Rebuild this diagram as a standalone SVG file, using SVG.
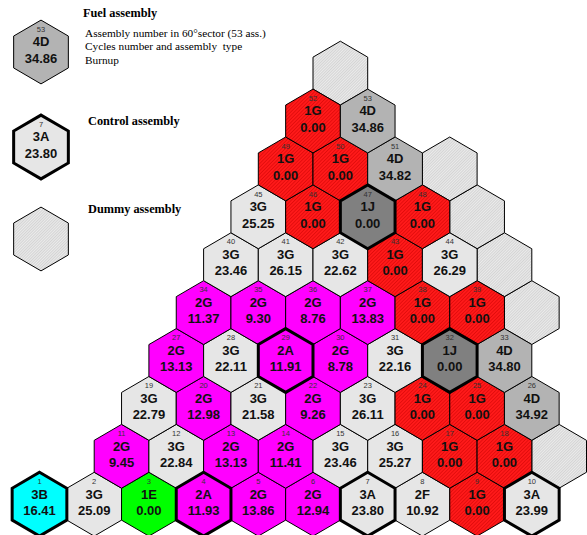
<svg xmlns="http://www.w3.org/2000/svg" xmlns:xlink="http://www.w3.org/1999/xlink" width="587" height="535" viewBox="0 0 587 535">
<style>
.hx{stroke:#000;stroke-width:1;stroke-linejoin:miter}
.thick{stroke-width:3}
.lg{fill:#e6e6e6}
.gr{fill:#b3b3b3}
.dk{fill:#808080}
.mg{fill:#ff00ff}
.rd{fill:url(#redhatch)}
.gn{fill:#00ff00}
.cy{fill:#00ffff}
.dm{fill:url(#dummyhatch)}
.n{font-family:"Liberation Sans",Arial,sans-serif;font-size:7.5px;fill:#333;text-anchor:middle}
.t{font-family:"Liberation Sans",Arial,sans-serif;font-size:13px;font-weight:bold;fill:#111;text-anchor:middle}
.lh{font-family:"Liberation Serif","Times New Roman",serif;font-size:12.3px;font-weight:bold;fill:#000}
.lt{font-family:"Liberation Serif","Times New Roman",serif;font-size:11.3px;fill:#000}
</style>
<defs>
<polygon id="hx" points="0,-31.9 27.35,-15.95 27.35,15.95 0,31.9 -27.35,15.95 -27.35,-15.95"/>
<pattern id="redhatch" width="2.5" height="2.5" patternUnits="userSpaceOnUse" patternTransform="rotate(45)">
<rect width="2.5" height="2.5" fill="#ff1a1a"/>
<line x1="0" y1="0" x2="0" y2="2.5" stroke="#c80000" stroke-width="0.9"/>
</pattern>
<pattern id="dummyhatch" width="2" height="2" patternUnits="userSpaceOnUse" patternTransform="rotate(45)">
<rect width="2" height="2" fill="#f4f4f4"/>
<line x1="0" y1="0" x2="0" y2="2" stroke="#a8a8a8" stroke-width="0.8"/>
<line x1="0" y1="1" x2="2" y2="1" stroke="#cfcfcf" stroke-width="0.5"/>
</pattern>
</defs>

<g id="legend">
<g id="legend-fuel" transform="translate(41,52)">
<use href="#hx" class="hx gr"/>
<text class="n" y="-20.3">53</text><text class="t" y="-5.7">4D</text><text class="t" y="10.7">34.86</text>
</g>
<text class="lh" x="83" y="17">Fuel assembly</text>
<text class="lt" x="85" y="36.5">Assembly number in 60°sector (53 ass.)</text>
<text class="lt" x="85" y="50" xml:space="preserve">Cycles number and assembly  type</text>
<text class="lt" x="85" y="63.5">Burnup</text>
<g id="legend-control" transform="translate(41,147)">
<use href="#hx" class="hx lg thick"/>
<text class="n" y="-20.3">7</text><text class="t" y="-5.7">3A</text><text class="t" y="10.7">23.80</text>
</g>
<text class="lh" x="88" y="125">Control assembly</text>
<g id="legend-dummy" transform="translate(41,239)">
<use href="#hx" class="hx dm"/>
</g>
<text class="lh" x="88" y="213">Dummy assembly</text>
</g>

<g id="dummies">
<g id="d1" transform="translate(559.15,456.3)"><use href="#hx" class="hx dm"/></g>
<g id="d2" transform="translate(531.8,312.6)"><use href="#hx" class="hx dm"/></g>
<g id="d3" transform="translate(504.45,264.7)"><use href="#hx" class="hx dm"/></g>
<g id="d4" transform="translate(477.1,216.8)"><use href="#hx" class="hx dm"/></g>
<g id="d5" transform="translate(449.75,168.9)"><use href="#hx" class="hx dm"/></g>
<g id="d6" transform="translate(340.35,73.1)"><use href="#hx" class="hx dm"/></g>
</g>

<g id="assemblies">
<g id="a2" transform="translate(94.2,504.2)"><use href="#hx" class="hx lg"/><text class="n" y="-20.3">2</text><text class="t" y="-5.7">3G</text><text class="t" y="10.7">25.09</text></g>
<g id="a3" transform="translate(148.9,504.2)"><use href="#hx" class="hx gn"/><text class="n" y="-20.3">3</text><text class="t" y="-5.7">1E</text><text class="t" y="10.7">0.00</text></g>
<g id="a5" transform="translate(258.3,504.2)"><use href="#hx" class="hx mg"/><text class="n" y="-20.3">5</text><text class="t" y="-5.7">2G</text><text class="t" y="10.7">13.86</text></g>
<g id="a6" transform="translate(313,504.2)"><use href="#hx" class="hx mg"/><text class="n" y="-20.3">6</text><text class="t" y="-5.7">2G</text><text class="t" y="10.7">12.94</text></g>
<g id="a8" transform="translate(422.4,504.2)"><use href="#hx" class="hx lg"/><text class="n" y="-20.3">8</text><text class="t" y="-5.7">2F</text><text class="t" y="10.7">10.92</text></g>
<g id="a9" transform="translate(477.1,504.2)"><use href="#hx" class="hx rd"/><text class="n" y="-20.3">9</text><text class="t" y="-5.7">1G</text><text class="t" y="10.7">0.00</text></g>

<g id="a11" transform="translate(121.55,456.3)"><use href="#hx" class="hx mg"/><text class="n" y="-20.3">11</text><text class="t" y="-5.7">2G</text><text class="t" y="10.7">9.45</text></g>
<g id="a12" transform="translate(176.25,456.3)"><use href="#hx" class="hx lg"/><text class="n" y="-20.3">12</text><text class="t" y="-5.7">3G</text><text class="t" y="10.7">22.84</text></g>
<g id="a13" transform="translate(230.95,456.3)"><use href="#hx" class="hx mg"/><text class="n" y="-20.3">13</text><text class="t" y="-5.7">2G</text><text class="t" y="10.7">13.13</text></g>
<g id="a14" transform="translate(285.65,456.3)"><use href="#hx" class="hx mg"/><text class="n" y="-20.3">14</text><text class="t" y="-5.7">2G</text><text class="t" y="10.7">11.41</text></g>
<g id="a15" transform="translate(340.35,456.3)"><use href="#hx" class="hx lg"/><text class="n" y="-20.3">15</text><text class="t" y="-5.7">3G</text><text class="t" y="10.7">23.46</text></g>
<g id="a16" transform="translate(395.05,456.3)"><use href="#hx" class="hx lg"/><text class="n" y="-20.3">16</text><text class="t" y="-5.7">3G</text><text class="t" y="10.7">25.27</text></g>
<g id="a17" transform="translate(449.75,456.3)"><use href="#hx" class="hx rd"/><text class="n" y="-20.3">17</text><text class="t" y="-5.7">1G</text><text class="t" y="10.7">0.00</text></g>
<g id="a18" transform="translate(504.45,456.3)"><use href="#hx" class="hx rd"/><text class="n" y="-20.3">18</text><text class="t" y="-5.7">1G</text><text class="t" y="10.7">0.00</text></g>

<g id="a19" transform="translate(148.9,408.4)"><use href="#hx" class="hx lg"/><text class="n" y="-20.3">19</text><text class="t" y="-5.7">3G</text><text class="t" y="10.7">22.79</text></g>
<g id="a20" transform="translate(203.6,408.4)"><use href="#hx" class="hx mg"/><text class="n" y="-20.3">20</text><text class="t" y="-5.7">2G</text><text class="t" y="10.7">12.98</text></g>
<g id="a21" transform="translate(258.3,408.4)"><use href="#hx" class="hx lg"/><text class="n" y="-20.3">21</text><text class="t" y="-5.7">3G</text><text class="t" y="10.7">21.58</text></g>
<g id="a22" transform="translate(313,408.4)"><use href="#hx" class="hx mg"/><text class="n" y="-20.3">22</text><text class="t" y="-5.7">2G</text><text class="t" y="10.7">9.26</text></g>
<g id="a23" transform="translate(367.7,408.4)"><use href="#hx" class="hx lg"/><text class="n" y="-20.3">23</text><text class="t" y="-5.7">3G</text><text class="t" y="10.7">26.11</text></g>
<g id="a24" transform="translate(422.4,408.4)"><use href="#hx" class="hx rd"/><text class="n" y="-20.3">24</text><text class="t" y="-5.7">1G</text><text class="t" y="10.7">0.00</text></g>
<g id="a25" transform="translate(477.1,408.4)"><use href="#hx" class="hx rd"/><text class="n" y="-20.3">25</text><text class="t" y="-5.7">1G</text><text class="t" y="10.7">0.00</text></g>
<g id="a26" transform="translate(531.8,408.4)"><use href="#hx" class="hx gr"/><text class="n" y="-20.3">26</text><text class="t" y="-5.7">4D</text><text class="t" y="10.7">34.92</text></g>

<g id="a27" transform="translate(176.25,360.5)"><use href="#hx" class="hx mg"/><text class="n" y="-20.3">27</text><text class="t" y="-5.7">2G</text><text class="t" y="10.7">13.13</text></g>
<g id="a28" transform="translate(230.95,360.5)"><use href="#hx" class="hx lg"/><text class="n" y="-20.3">28</text><text class="t" y="-5.7">3G</text><text class="t" y="10.7">22.11</text></g>
<g id="a30" transform="translate(340.35,360.5)"><use href="#hx" class="hx mg"/><text class="n" y="-20.3">30</text><text class="t" y="-5.7">2G</text><text class="t" y="10.7">8.78</text></g>
<g id="a31" transform="translate(395.05,360.5)"><use href="#hx" class="hx lg"/><text class="n" y="-20.3">31</text><text class="t" y="-5.7">3G</text><text class="t" y="10.7">22.16</text></g>
<g id="a33" transform="translate(504.45,360.5)"><use href="#hx" class="hx gr"/><text class="n" y="-20.3">33</text><text class="t" y="-5.7">4D</text><text class="t" y="10.7">34.80</text></g>

<g id="a34" transform="translate(203.6,312.6)"><use href="#hx" class="hx mg"/><text class="n" y="-20.3">34</text><text class="t" y="-5.7">2G</text><text class="t" y="10.7">11.37</text></g>
<g id="a35" transform="translate(258.3,312.6)"><use href="#hx" class="hx mg"/><text class="n" y="-20.3">35</text><text class="t" y="-5.7">2G</text><text class="t" y="10.7">9.30</text></g>
<g id="a36" transform="translate(313,312.6)"><use href="#hx" class="hx mg"/><text class="n" y="-20.3">36</text><text class="t" y="-5.7">2G</text><text class="t" y="10.7">8.76</text></g>
<g id="a37" transform="translate(367.7,312.6)"><use href="#hx" class="hx mg"/><text class="n" y="-20.3">37</text><text class="t" y="-5.7">2G</text><text class="t" y="10.7">13.83</text></g>
<g id="a38" transform="translate(422.4,312.6)"><use href="#hx" class="hx rd"/><text class="n" y="-20.3">38</text><text class="t" y="-5.7">1G</text><text class="t" y="10.7">0.00</text></g>
<g id="a39" transform="translate(477.1,312.6)"><use href="#hx" class="hx rd"/><text class="n" y="-20.3">39</text><text class="t" y="-5.7">1G</text><text class="t" y="10.7">0.00</text></g>

<g id="a40" transform="translate(230.95,264.7)"><use href="#hx" class="hx lg"/><text class="n" y="-20.3">40</text><text class="t" y="-5.7">3G</text><text class="t" y="10.7">23.46</text></g>
<g id="a41" transform="translate(285.65,264.7)"><use href="#hx" class="hx lg"/><text class="n" y="-20.3">41</text><text class="t" y="-5.7">3G</text><text class="t" y="10.7">26.15</text></g>
<g id="a42" transform="translate(340.35,264.7)"><use href="#hx" class="hx lg"/><text class="n" y="-20.3">42</text><text class="t" y="-5.7">3G</text><text class="t" y="10.7">22.62</text></g>
<g id="a43" transform="translate(395.05,264.7)"><use href="#hx" class="hx rd"/><text class="n" y="-20.3">43</text><text class="t" y="-5.7">1G</text><text class="t" y="10.7">0.00</text></g>
<g id="a44" transform="translate(449.75,264.7)"><use href="#hx" class="hx lg"/><text class="n" y="-20.3">44</text><text class="t" y="-5.7">3G</text><text class="t" y="10.7">26.29</text></g>

<g id="a45" transform="translate(258.3,216.8)"><use href="#hx" class="hx lg"/><text class="n" y="-20.3">45</text><text class="t" y="-5.7">3G</text><text class="t" y="10.7">25.25</text></g>
<g id="a46" transform="translate(313,216.8)"><use href="#hx" class="hx rd"/><text class="n" y="-20.3">46</text><text class="t" y="-5.7">1G</text><text class="t" y="10.7">0.00</text></g>
<g id="a48" transform="translate(422.4,216.8)"><use href="#hx" class="hx rd"/><text class="n" y="-20.3">48</text><text class="t" y="-5.7">1G</text><text class="t" y="10.7">0.00</text></g>

<g id="a49" transform="translate(285.65,168.9)"><use href="#hx" class="hx rd"/><text class="n" y="-20.3">49</text><text class="t" y="-5.7">1G</text><text class="t" y="10.7">0.00</text></g>
<g id="a50" transform="translate(340.35,168.9)"><use href="#hx" class="hx rd"/><text class="n" y="-20.3">50</text><text class="t" y="-5.7">1G</text><text class="t" y="10.7">0.00</text></g>
<g id="a51" transform="translate(395.05,168.9)"><use href="#hx" class="hx gr"/><text class="n" y="-20.3">51</text><text class="t" y="-5.7">4D</text><text class="t" y="10.7">34.82</text></g>

<g id="a52" transform="translate(313,121)"><use href="#hx" class="hx rd"/><text class="n" y="-20.3">52</text><text class="t" y="-5.7">1G</text><text class="t" y="10.7">0.00</text></g>
<g id="a53" transform="translate(367.7,121)"><use href="#hx" class="hx gr"/><text class="n" y="-20.3">53</text><text class="t" y="-5.7">4D</text><text class="t" y="10.7">34.86</text></g>

<g id="a1" transform="translate(39.5,504.2)"><use href="#hx" class="hx cy thick"/><text class="n" y="-20.3">1</text><text class="t" y="-5.7">3B</text><text class="t" y="10.7">16.41</text></g>
<g id="a4" transform="translate(203.6,504.2)"><use href="#hx" class="hx mg thick"/><text class="n" y="-20.3">4</text><text class="t" y="-5.7">2A</text><text class="t" y="10.7">11.93</text></g>
<g id="a7" transform="translate(367.7,504.2)"><use href="#hx" class="hx lg thick"/><text class="n" y="-20.3">7</text><text class="t" y="-5.7">3A</text><text class="t" y="10.7">23.80</text></g>
<g id="a10" transform="translate(531.8,504.2)"><use href="#hx" class="hx lg thick"/><text class="n" y="-20.3">10</text><text class="t" y="-5.7">3A</text><text class="t" y="10.7">23.99</text></g>
<g id="a29" transform="translate(285.65,360.5)"><use href="#hx" class="hx mg thick"/><text class="n" y="-20.3">29</text><text class="t" y="-5.7">2A</text><text class="t" y="10.7">11.91</text></g>
<g id="a32" transform="translate(449.75,360.5)"><use href="#hx" class="hx dk thick"/><text class="n" y="-20.3">32</text><text class="t" y="-5.7">1J</text><text class="t" y="10.7">0.00</text></g>
<g id="a47" transform="translate(367.7,216.8)"><use href="#hx" class="hx dk thick"/><text class="n" y="-20.3">47</text><text class="t" y="-5.7">1J</text><text class="t" y="10.7">0.00</text></g>
</g>
</svg>
